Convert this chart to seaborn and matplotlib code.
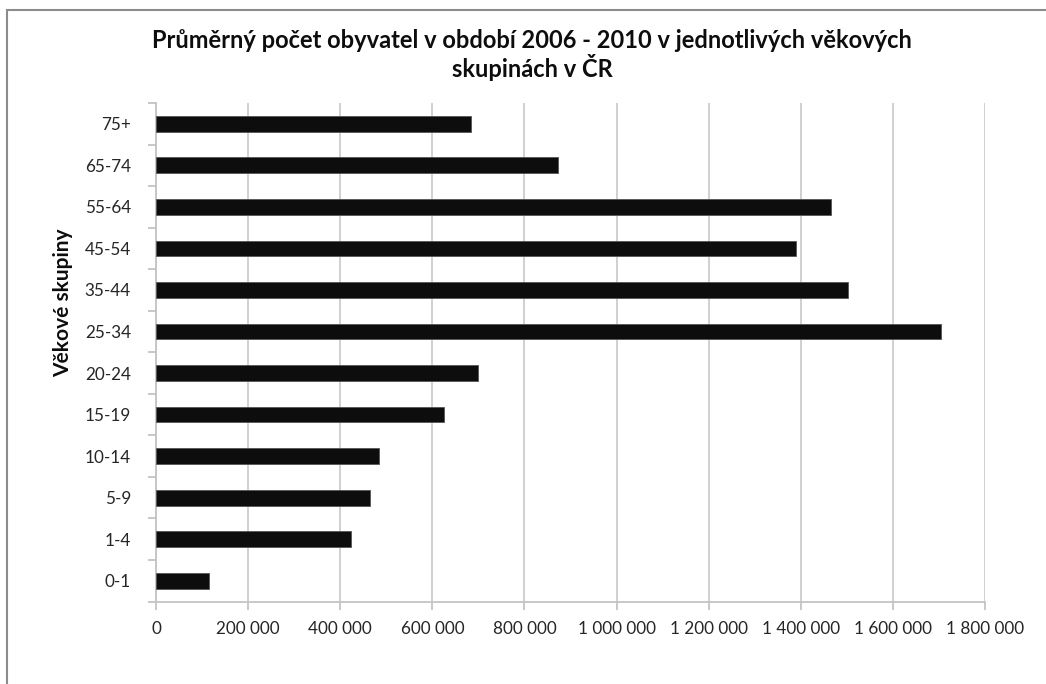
import numpy as np
import pandas as pd
import matplotlib
matplotlib.use("Agg")
import matplotlib.pyplot as plt
from matplotlib.patches import Rectangle
from matplotlib.ticker import FuncFormatter, FixedLocator
import seaborn as sns

# Average population 2006-2010 by age group (Czech Republic)
age_groups = ["0-1", "1-4", "5-9", "10-14", "15-19", "20-24",
              "25-34", "35-44", "45-54", "55-64", "65-74", "75+"]
population = [115000, 424000, 464000, 485000, 626000, 699000,
              1705000, 1502000, 1389000, 1466000, 873000, 683000]
x_ticks = [0, 200000, 400000, 600000, 800000, 1000000,
           1200000, 1400000, 1600000, 1800000]

title = "Průměrný počet obyvatel v období 2006 - 2010 v jednotlivých věkových\nskupinách v ČR"
y_label = "Věkové skupiny"

sns.set_theme(style="white")
plt.rcParams["font.family"] = ["Lato", "DejaVu Sans"]

df = pd.DataFrame({"skupina": age_groups, "pocet": population})
order = age_groups[::-1]

fig = plt.figure(figsize=(10.46, 6.84), dpi=100)
ax = fig.add_axes([156 / 1046, 1 - 601.5 / 684, 829 / 1046, 498.5 / 684])

sns.barplot(data=df, x="pocet", y="skupina", order=order, orient="h",
            color="#0d0d0d", saturation=1, width=0.38, ax=ax,
            edgecolor="#555555", linewidth=0.6, zorder=3)

ax.set_xlim(0, 1800000)
ax.set_ylim(len(order) - 0.5, -0.5)
ax.xaxis.set_major_locator(FixedLocator(x_ticks))
ax.xaxis.set_major_formatter(FuncFormatter(lambda v, p: f"{int(v):,}".replace(",", " ")))
ax.grid(axis="x", color="#d0d0d0", linewidth=1.4, zorder=0)
ax.grid(axis="y", visible=False)

for side in ["top", "right"]:
    ax.spines[side].set_visible(False)
for side in ["left", "bottom"]:
    ax.spines[side].set_color("#c4c4c4")
    ax.spines[side].set_linewidth(1.3)

ax.tick_params(axis="x", which="major", length=6, width=1.3, color="#c4c4c4",
               labelsize=12.3, labelcolor="#262626", pad=8, bottom=True)
ax.tick_params(axis="y", which="major", length=0, labelsize=12.3,
               labelcolor="#262626", pad=18)
ax.yaxis.set_minor_locator(FixedLocator(np.arange(-0.5, len(order), 1.0)))
ax.tick_params(axis="y", which="minor", length=6, width=1.3, color="#c4c4c4", left=True)

ax.set_xlabel("")
ax.set_ylabel(y_label, fontsize=15, fontweight="bold", color="#0d0d0d")
ax.yaxis.set_label_coords(-0.112, 0.60)
ax.yaxis.label.set_va("center")

fig.text(532 / 1046, 1 - 55 / 684, title, ha="center", va="center",
         fontsize=17, fontweight="bold", color="#0d0d0d", linespacing=1.07)

# chart area border (visible along the top and left)
fig.patches.append(Rectangle((6.5 / 1046, -0.1), 1.2, 1 - 10.5 / 684 + 0.1,
                             transform=fig.transFigure, fill=False,
                             edgecolor="#8c8c8c", linewidth=1.5))

fig.savefig("out.png", dpi=100, facecolor="white")
